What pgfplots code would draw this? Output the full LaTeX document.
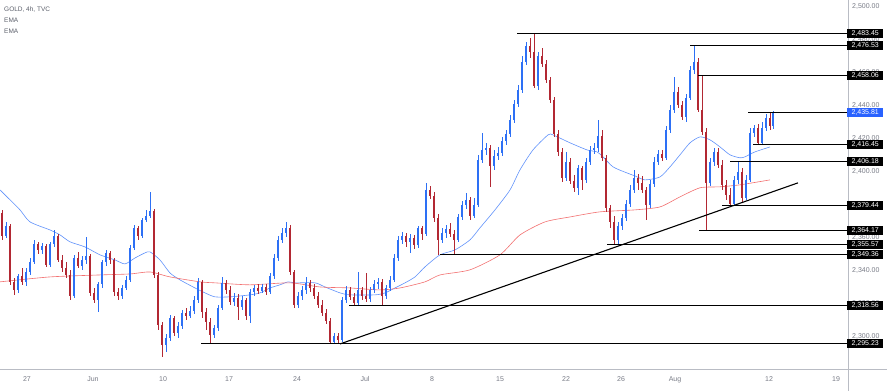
\documentclass[border=0pt]{standalone}
\usepackage{fontspec}
\setmainfont{Liberation Sans}
\usepackage{pgfplots}
\usepackage{pgfplotstable}
\pgfplotsset{compat=1.18}
\definecolor{bull}{RGB}{45,112,245}
\definecolor{bear}{RGB}{178,40,51}
\definecolor{emab}{RGB}{95,145,250}
\definecolor{emar}{RGB}{242,112,112}
\definecolor{axgray}{RGB}{120,123,134}
\definecolor{leggray}{RGB}{90,94,105}
\definecolor{tvblue}{RGB}{41,98,255}
\definecolor{linegray}{RGB}{185,188,196}

\pgfplotstableread{
x o h l c
2 2374.8 2376.6 2358.4 2360.8
6 2360.8 2369.3 2359.6 2366.9
10 2366.9 2368.1 2331.1 2332.9
14 2332.9 2335.3 2325.0 2328.0
18 2328.0 2337.7 2326.2 2336.5
22 2336.5 2341.4 2331.1 2332.9
26 2332.9 2341.4 2330.4 2338.9
30 2338.9 2347.4 2337.1 2345.0
34 2345.0 2358.4 2343.8 2355.9
38 2355.9 2357.2 2349.9 2352.3
42 2352.3 2356.6 2349.9 2354.7
46 2354.7 2355.9 2342.0 2343.2
50 2343.2 2357.2 2342.0 2355.9
54 2355.9 2364.4 2354.1 2360.8
58 2360.8 2362.0 2345.0 2346.2
62 2346.2 2349.3 2338.9 2341.4
66 2341.4 2345.0 2335.3 2337.1
70 2337.1 2340.2 2321.9 2324.4
74 2324.4 2349.3 2323.2 2347.4
78 2347.4 2351.1 2341.4 2342.6
82 2342.6 2348.7 2340.2 2346.2
86 2346.2 2360.2 2343.8 2348.7
90 2348.7 2349.9 2324.4 2326.2
94 2326.2 2329.2 2320.1 2321.9
98 2321.9 2332.9 2314.7 2331.7
102 2331.7 2346.2 2329.2 2345.0
106 2345.0 2352.3 2342.6 2350.5
110 2350.5 2351.7 2343.8 2346.2
114 2346.2 2347.4 2324.4 2326.8
118 2326.8 2329.2 2321.9 2324.4
122 2324.4 2331.1 2322.5 2329.2
126 2329.2 2336.5 2328.0 2334.1
130 2334.1 2355.3 2332.9 2353.5
134 2353.5 2367.5 2352.3 2365.7
138 2365.7 2366.9 2358.4 2360.8
142 2360.8 2371.7 2359.6 2370.5
146 2370.5 2376.6 2369.3 2372.9
150 2372.9 2387.5 2371.7 2376.0
154 2376.0 2377.2 2335.3 2337.1
158 2337.1 2338.9 2303.7 2306.8
162 2306.8 2308.6 2287.3 2294.6
166 2294.6 2301.3 2290.4 2298.9
170 2298.9 2312.8 2297.0 2311.0
174 2311.0 2312.2 2300.1 2301.9
178 2301.9 2308.6 2298.9 2306.2
182 2306.2 2315.9 2304.3 2314.0
186 2314.0 2317.1 2309.8 2312.2
190 2312.2 2318.3 2311.0 2315.3
194 2315.3 2324.4 2313.4 2321.9
198 2321.9 2335.3 2320.1 2332.9
202 2332.9 2334.1 2311.0 2314.7
206 2314.7 2317.1 2303.7 2308.6
210 2308.6 2311.0 2295.2 2300.7
214 2300.7 2306.8 2298.9 2304.9
218 2304.9 2318.9 2303.1 2317.1
222 2317.1 2335.9 2315.9 2332.3
226 2332.3 2334.1 2325.6 2328.0
230 2328.0 2330.4 2318.9 2320.7
234 2320.7 2326.2 2318.3 2323.2
238 2323.2 2325.6 2309.8 2317.7
242 2317.7 2324.4 2315.9 2321.9
246 2321.9 2323.2 2309.8 2312.2
250 2312.2 2328.6 2308.0 2326.8
254 2326.8 2331.1 2324.4 2329.2
258 2329.2 2331.7 2325.6 2327.4
262 2327.4 2331.7 2326.2 2329.8
266 2329.8 2331.7 2325.0 2326.8
270 2326.8 2338.3 2325.6 2336.5
274 2336.5 2349.9 2334.7 2347.4
278 2347.4 2360.8 2345.6 2358.4
282 2358.4 2365.7 2356.6 2362.6
286 2362.6 2369.3 2360.2 2365.7
290 2365.7 2367.5 2337.1 2338.9
294 2338.9 2340.2 2317.1 2318.9
298 2318.9 2326.8 2317.1 2324.4
302 2324.4 2330.4 2321.9 2328.0
306 2328.0 2335.9 2325.6 2332.3
310 2332.3 2334.1 2326.8 2329.2
314 2329.2 2331.7 2322.5 2324.4
318 2324.4 2326.8 2317.1 2318.9
322 2318.9 2321.9 2312.2 2314.0
326 2314.0 2316.5 2307.4 2309.2
330 2309.2 2311.0 2295.2 2296.4
334 2296.4 2301.9 2295.6 2300.1
338 2300.1 2301.9 2295.8 2297.7
342 2297.7 2323.8 2296.4 2321.9
346 2321.9 2330.4 2320.1 2328.0
350 2328.0 2329.8 2321.9 2323.8
354 2323.8 2326.2 2318.6 2320.1
358 2320.1 2338.9 2318.9 2328.0
362 2328.0 2329.8 2321.9 2324.4
366 2324.4 2338.3 2320.7 2322.5
370 2322.5 2329.8 2320.7 2328.0
374 2328.0 2334.1 2326.2 2331.7
378 2331.7 2335.3 2328.6 2332.9
382 2332.9 2334.7 2318.6 2324.4
386 2324.4 2331.1 2322.5 2329.2
390 2329.2 2336.5 2327.4 2334.1
394 2334.1 2349.9 2332.9 2347.4
398 2347.4 2360.8 2345.6 2358.4
402 2358.4 2363.2 2355.9 2360.8
406 2360.8 2362.6 2354.1 2357.2
410 2357.2 2362.0 2350.5 2359.6
414 2359.6 2361.4 2352.9 2355.3
418 2355.3 2366.9 2353.5 2365.7
422 2365.7 2366.9 2358.4 2362.0
426 2362.0 2393.0 2360.8 2388.7
430 2388.7 2391.2 2383.3 2385.1
434 2385.1 2387.5 2369.3 2371.7
438 2371.7 2374.2 2349.4 2358.4
442 2358.4 2365.7 2356.6 2362.6
446 2362.6 2367.5 2359.6 2365.1
450 2365.1 2368.7 2360.2 2362.0
454 2362.0 2364.4 2349.4 2358.4
458 2358.4 2374.2 2357.2 2372.3
462 2372.3 2382.1 2370.5 2379.6
466 2379.6 2386.9 2377.2 2382.7
470 2382.7 2384.5 2370.5 2372.9
474 2372.9 2383.9 2371.7 2379.6
478 2379.6 2410.0 2378.4 2406.9
482 2406.9 2423.3 2405.1 2413.0
486 2413.0 2417.3 2410.0 2414.2
490 2414.2 2416.1 2390.6 2403.3
494 2403.3 2413.0 2400.9 2409.4
498 2409.4 2414.8 2406.9 2411.2
502 2411.2 2420.9 2409.4 2418.5
506 2418.5 2425.2 2416.1 2422.7
510 2422.7 2434.3 2420.9 2431.2
514 2431.2 2443.4 2429.4 2441.0
518 2441.0 2452.5 2439.1 2449.4
522 2449.4 2470.1 2447.6 2466.4
526 2466.4 2478.6 2464.6 2476.2
530 2476.2 2481.0 2468.9 2472.5
534 2472.5 2483.45 2450.7 2451.9
538 2451.9 2472.5 2449.4 2470.1
542 2470.1 2474.9 2463.4 2465.2
546 2465.2 2467.7 2453.7 2455.5
550 2455.5 2457.3 2441.6 2443.4
554 2443.4 2445.2 2420.9 2422.7
558 2422.7 2425.2 2409.4 2411.8
562 2411.8 2414.2 2393.6 2396.0
566 2396.0 2411.8 2394.2 2405.7
570 2405.7 2408.2 2392.4 2394.2
574 2394.2 2397.8 2387.5 2390.0
578 2390.0 2403.9 2385.7 2402.1
582 2402.1 2403.3 2388.7 2394.8
586 2394.8 2408.2 2393.0 2405.7
590 2405.7 2415.5 2403.9 2413.0
594 2413.0 2417.3 2410.6 2414.2
598 2414.2 2431.2 2411.8 2421.5
602 2421.5 2425.2 2406.3 2408.2
606 2408.2 2410.0 2375.4 2377.8
610 2377.8 2379.6 2365.7 2369.3
614 2369.3 2372.9 2355.6 2358.4
618 2358.4 2369.3 2355.8 2366.9
622 2366.9 2374.2 2364.4 2371.7
626 2371.7 2382.7 2369.9 2380.2
630 2380.2 2391.8 2378.4 2388.7
634 2388.7 2400.9 2386.9 2396.0
638 2396.0 2398.5 2388.7 2393.0
642 2393.0 2397.2 2386.9 2388.7
646 2388.7 2390.6 2370.5 2379.6
650 2379.6 2394.8 2377.8 2392.4
654 2392.4 2408.8 2390.6 2405.7
658 2405.7 2413.0 2403.9 2410.6
662 2410.6 2413.0 2406.3 2408.2
666 2408.2 2427.6 2406.9 2425.2
670 2425.2 2440.3 2423.3 2437.3
674 2437.3 2457.3 2435.5 2448.2
678 2448.2 2451.3 2438.5 2440.3
682 2440.3 2442.8 2431.2 2433.1
686 2433.1 2447.0 2430.0 2444.6
690 2444.6 2464.0 2443.4 2461.6
694 2461.6 2476.53 2459.2 2466.4
698 2466.4 2468.9 2436.1 2437.3
702 2437.3 2458.06 2422.1 2424.0
706 2424.0 2426.4 2364.17 2393.0
710 2393.0 2408.2 2391.2 2405.7
714 2405.7 2414.2 2403.3 2411.8
718 2411.8 2414.2 2402.1 2403.9
722 2403.9 2406.9 2388.7 2391.8
726 2391.8 2394.8 2382.7 2385.7
730 2385.7 2390.0 2379.44 2380.2
734 2380.2 2397.2 2379.8 2394.8
738 2394.8 2406.18 2392.4 2399.7
742 2399.7 2402.1 2380.5 2383.9
746 2383.9 2397.8 2382.7 2394.8
750 2394.8 2426.4 2393.6 2423.3
754 2423.3 2428.2 2420.9 2426.4
758 2426.4 2428.8 2416.45 2417.3
762 2417.3 2430.0 2416.6 2426.4
766 2426.4 2434.9 2424.6 2432.5
770 2432.5 2436.1 2425.2 2427.6
773 2427.6 2436.8 2425.8 2435.81
}\candles

\tikzset{pbox/.style={fill=black, text=white, anchor=west, inner xsep=0pt, inner ysep=0pt,
  minimum width=36pt, minimum height=9pt, font=\fontsize{7}{8}\selectfont}}
\pgfplotsset{candle/.style n args={2}{draw=none, mark=none, forget plot,
  error bars/y dir=plus, error bars/y explicit, error bars/error mark=none,
  error bars/error bar style={draw=#1, line width=#2}}}

\begin{document}
\begin{tikzpicture}
\useasboundingbox (0pt,-22pt) rectangle (887pt,369pt);
\begin{axis}[
  at={(0pt,0pt)}, anchor=south west,
  scale only axis, width=848pt, height=369pt,
  xmin=0, xmax=848, ymin=2280, ymax=2504,
  axis line style={draw=none},
  major tick length=0pt,
  xtick={27,93,163,229,297,365,432,500,566,621,675,769,836},
  xticklabels={27,Jun,10,17,24,Jul,8,15,22,26,Aug,12,19},
  ytick={2300,2320,...,2500},
  yticklabel pos=right,
  scaled y ticks=false,
  yticklabel style={anchor=west, inner sep=0pt, xshift=4pt, font=\fontsize{7}{8}\selectfont, text=axgray,
    /pgf/number format/.cd, fixed, fixed zerofill, precision=2, 1000 sep={,}, assume math mode=true},
  xticklabel style={anchor=north, inner sep=0pt, yshift=-7pt, font=\fontsize{7}{8}\selectfont, text=axgray},
]
% EMAs
\addplot[emab, line width=0.6pt, smooth, tension=0.4, mark=none] coordinates {
(0,2388.7) (10,2382.7) (20,2376.6) (30,2369.3) (50,2364.4) (60,2361.4) (70,2357.2) (85,2354.1) (100,2349.3) (115,2346.2) (125,2343.8) (135,2347.4) (145,2350.5) (150,2351.1) (160,2346.2) (170,2338.3) (180,2334.1) (195,2329.2) (205,2326.2) (215,2323.8) (230,2323.8) (250,2325.0) (260,2326.2) (270,2329.2) (280,2331.1) (288,2332.9) (295,2332.3) (315,2332.3) (325,2329.8) (340,2326.2) (350,2325.0) (375,2325.0) (385,2326.2) (395,2329.2) (405,2332.3) (415,2335.9) (425,2342.0) (440,2349.3) (455,2352.3) (470,2358.4) (480,2365.7) (495,2376.6) (510,2388.7) (520,2400.9) (533,2413.0) (548,2422.1) (553,2422.1) (570,2417.3) (587,2413.0) (597,2411.8) (603,2408.8) (613,2402.7) (627,2399.0) (635,2397.2) (645,2394.8) (660,2396.6) (670,2402.7) (680,2410.0) (690,2417.3) (700,2420.9) (710,2419.1) (720,2414.8) (730,2410.0) (740,2408.2) (745,2408.8) (755,2411.8) (770,2414.8)};
\addplot[emar, line width=0.6pt, smooth, tension=0.4, mark=none] coordinates {
(0,2332.9) (50,2335.9) (100,2337.1) (130,2337.7) (150,2338.9) (170,2335.9) (200,2332.9) (215,2332.3) (250,2331.1) (290,2332.3) (320,2329.8) (350,2329.2) (380,2328.0) (400,2329.2) (425,2332.9) (440,2337.1) (470,2340.2) (500,2349.3) (520,2361.4) (545,2369.3) (570,2372.3) (600,2375.4) (635,2376.6) (660,2378.4) (680,2384.5) (700,2390.0) (720,2390.6) (740,2391.8) (770,2394.8)};
% wicks
\addplot[restrict expr to domain={\thisrow{c}-\thisrow{o}}{0:1000}, candle={bull}{0.7pt}]
  table[x=x, y=l, y error plus expr={\thisrow{h}-\thisrow{l}}] {\candles};
\addplot[restrict expr to domain={\thisrow{c}-\thisrow{o}}{-1000:0}, candle={bear}{0.7pt}]
  table[x=x, y=l, y error plus expr={\thisrow{h}-\thisrow{l}}] {\candles};
% bodies
\addplot[restrict expr to domain={\thisrow{c}-\thisrow{o}}{0:1000}, candle={bull}{2.4pt}]
  table[x=x, y=o, y error plus expr={\thisrow{c}-\thisrow{o}}] {\candles};
\addplot[restrict expr to domain={\thisrow{c}-\thisrow{o}}{-1000:0}, candle={bear}{2.4pt}]
  table[x=x, y=c, y error plus expr={\thisrow{o}-\thisrow{c}}] {\candles};
% horizontal levels
\addplot[black, line width=1pt] coordinates {(517,2483.45) (848,2483.45)};
\addplot[black, line width=1pt] coordinates {(690,2476.53) (848,2476.53)};
\addplot[black, line width=1.3pt] coordinates {(698,2458.06) (848,2458.06)};
\addplot[black, line width=1pt] coordinates {(748,2435.81) (848,2435.81)};
\addplot[black, line width=1pt] coordinates {(753,2416.45) (848,2416.45)};
\addplot[black, line width=1pt] coordinates {(730,2406.18) (848,2406.18)};
\addplot[black, line width=1pt] coordinates {(722,2379.44) (848,2379.44)};
\addplot[black, line width=1pt] coordinates {(699,2364.17) (848,2364.17)};
\addplot[black, line width=1pt] coordinates {(607,2355.57) (848,2355.57)};
\addplot[black, line width=1pt] coordinates {(440,2349.36) (848,2349.36)};
\addplot[black, line width=1pt] coordinates {(349,2318.56) (848,2318.56)};
\addplot[black, line width=1pt] coordinates {(201,2295.23) (848,2295.23)};
% trend line
\addplot[black, line width=1.1pt] coordinates {(340,2295.2) (798,2393.0)};
% label anchors
\coordinate (b1) at (axis cs:847,2483.45);
\coordinate (b2) at (axis cs:847,2476.53);
\coordinate (b3) at (axis cs:847,2458.06);
\coordinate (b4) at (axis cs:847,2435.81);
\coordinate (b5) at (axis cs:847,2416.45);
\coordinate (b6) at (axis cs:847,2406.18);
\coordinate (b7) at (axis cs:847,2379.44);
\coordinate (b8) at (axis cs:847,2364.17);
\coordinate (b9) at (axis cs:847,2355.57);
\coordinate (b10) at (axis cs:847,2349.36);
\coordinate (b11) at (axis cs:847,2318.56);
\coordinate (b12) at (axis cs:847,2295.23);
\end{axis}
\draw[linegray, line width=0.8pt] (848pt,-22pt) -- (848pt,369pt);
\draw[linegray, line width=0.8pt] (0pt,0pt) -- (887pt,0pt);
\node[pbox] at (b1) {2,483.45};
\node[pbox] at (b2) {2,476.53};
\node[pbox] at (b3) {2,458.06};
\node[pbox, fill=tvblue] at (b4) {2,435.81};
\node[pbox] at (b5) {2,416.45};
\node[pbox] at (b6) {2,406.18};
\node[pbox] at (b7) {2,379.44};
\node[pbox] at (b8) {2,364.17};
\node[pbox] at (b9) {2,355.57};
\node[pbox] at (b10) {2,349.36};
\node[pbox] at (b11) {2,318.56};
\node[pbox] at (b12) {2,295.23};
\node[anchor=west, inner sep=0pt, font=\fontsize{6.5}{7}\selectfont, text=leggray] at (4pt,359pt) {GOLD, 4h, TVC};
\node[anchor=west, inner sep=0pt, font=\fontsize{6.5}{7}\selectfont, text=leggray] at (4pt,348.5pt) {EMA};
\node[anchor=west, inner sep=0pt, font=\fontsize{6.5}{7}\selectfont, text=leggray] at (4pt,337.5pt) {EMA};
\end{tikzpicture}
\end{document}
